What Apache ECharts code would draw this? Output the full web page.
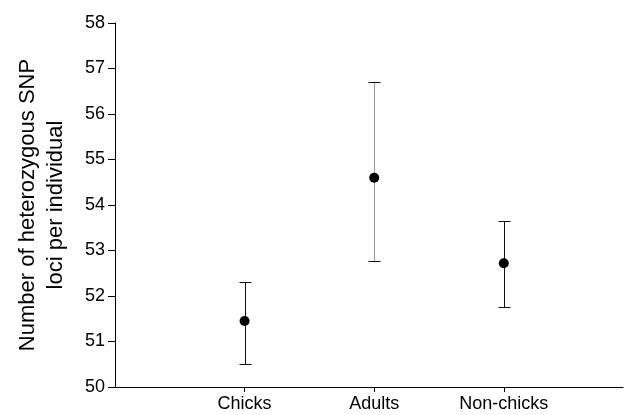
<!DOCTYPE html>
<html>
<head>
<meta charset="utf-8">
<script src="https://cdn.jsdelivr.net/npm/echarts@6/dist/echarts.min.js"></script>
<style>
  html, body { margin: 0; padding: 0; background: #fff; }
  #chart { width: 624px; height: 415px; }
</style>
</head>
<body>
<div id="chart"></div>
<script>
// groups and their means with the error bar ends
var groups = ['Chicks', 'Adults', 'Non-chicks'];
var means = [51.45, 54.60, 52.72];
var lower = [50.50, 52.77, 51.75];
var upper = [52.30, 56.70, 53.65];
var yTicks = [50, 51, 52, 53, 54, 55, 56, 57, 58];

// stem colour per group (the adults bar looks lighter in the figure)
var stemColors = ['#111', '#999', '#111'];

var chart = echarts.init(document.getElementById('chart'), null, { renderer: 'canvas' });

var barData = groups.map(function (g, i) {
  return [i + 1, lower[i], upper[i]];
});
var pointData = groups.map(function (g, i) {
  return [i + 1, means[i]];
});

var option = {
  backgroundColor: '#ffffff',
  animation: false,
  textStyle: { fontFamily: 'Liberation Sans, Arial, sans-serif' },
  grid: { left: 115, right: 1, top: 23, bottom: 28, containLabel: false, outerBoundsMode: 'none' },
  xAxis: {
    type: 'value',
    min: 0,
    max: 3.92,
    interval: 1,
    splitLine: { show: false },
    axisLine: { lineStyle: { color: '#000', width: 1 } },
    axisTick: { show: true, length: 5, customValues: [1, 2, 3], lineStyle: { color: '#000' } },
    axisLabel: {
      customValues: [1, 2, 3],
      color: '#000',
      fontSize: 18,
      margin: 8,
      formatter: function (v) { return groups[Math.round(v) - 1] || ''; }
    }
  },
  yAxis: {
    type: 'value',
    min: yTicks[0],
    max: yTicks[yTicks.length - 1],
    interval: 1,
    name: 'Number of heterozygous SNP\nloci per individual',
    nameLocation: 'middle',
    nameGap: 45,
    nameTextStyle: { color: '#000', fontSize: 22, lineHeight: 28 },
    splitLine: { show: false },
    axisLine: { show: true, lineStyle: { color: '#000', width: 1 } },
    axisTick: { show: true, length: 7, lineStyle: { color: '#000' } },
    axisLabel: { color: '#000', fontSize: 18, margin: 10 }
  },
  series: [
    {
      type: 'custom',
      data: barData,
      renderItem: function (params, api) {
        var x = api.value(0);
        var top = api.coord([x, api.value(2)]);
        var bot = api.coord([x, api.value(1)]);
        var half = 6;
        var cx = Math.round(top[0]) + 0.5;
        return {
          type: 'group',
          children: [
            { type: 'line', shape: { x1: cx, y1: top[1], x2: cx, y2: bot[1] },
              style: { stroke: stemColors[params.dataIndex], lineWidth: 1 } },
            { type: 'line', shape: { x1: cx - half, y1: Math.round(top[1]) + 0.5, x2: cx + half, y2: Math.round(top[1]) + 0.5 },
              style: { stroke: '#111', lineWidth: 1 } },
            { type: 'line', shape: { x1: cx - half, y1: Math.round(bot[1]) + 0.5, x2: cx + half, y2: Math.round(bot[1]) + 0.5 },
              style: { stroke: '#111', lineWidth: 1 } }
          ]
        };
      },
      z: 2
    },
    {
      type: 'scatter',
      data: pointData,
      symbol: 'circle',
      symbolSize: 10,
      itemStyle: { color: '#000', opacity: 1 },
      z: 3
    }
  ]
};

chart.setOption(option);
</script>
</body>
</html>
